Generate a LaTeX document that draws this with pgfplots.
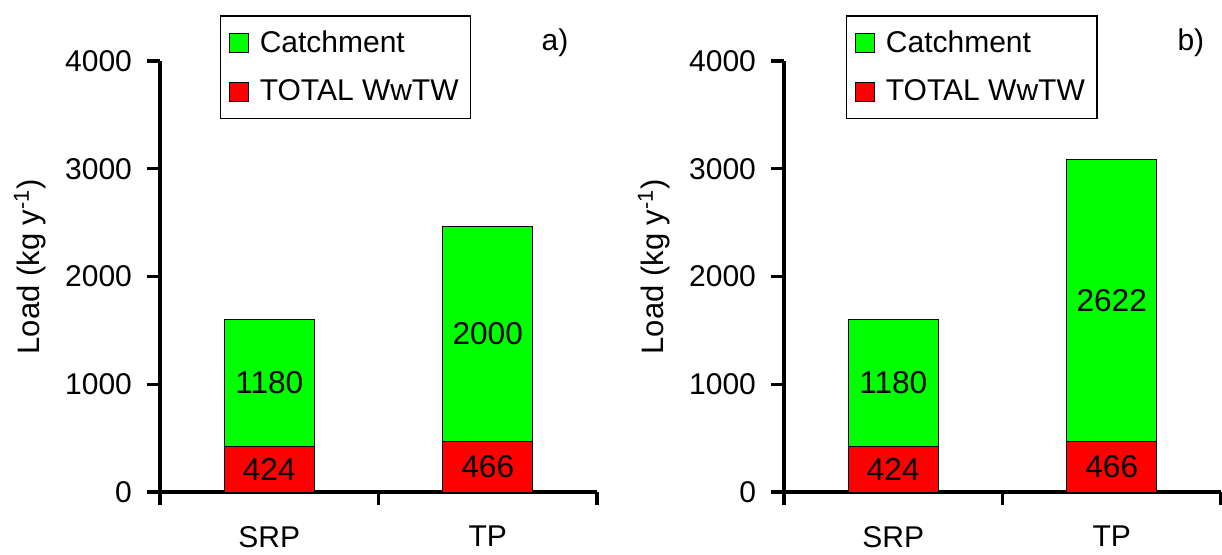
\documentclass[border=0pt]{standalone}
\usepackage{fontspec}
\setmainfont{Liberation Sans}
\usepackage{pgfplots}
\pgfplotsset{compat=1.18}
\newcommand{\fs}{\fontsize{15}{18}\selectfont}
\pgfplotsset{
  /pgf/number format/assume math mode=true,
  /pgf/number format/1000 sep={},
  panel/.style={
    scale only axis, width=218.5pt, height=215.5pt,
    xmin=0, xmax=2, ymin=0, ymax=4000,
    axis lines*=left,
    axis line style={line width=1.6pt, black},
    tick style={line width=1.6pt, black},
    tick align=outside,
    major tick length=6.5pt,
    xtick={0,1,2}, xticklabels={},
    extra x ticks={0.5,1.5}, extra x tick labels={SRP,TP},
    extra x tick style={major tick length=0pt, xticklabel style={yshift=-13.5pt}},
    ytick={0,1000,2000,3000,4000},
    tick label style={font=\fs},
    yticklabel style={xshift=-4pt},
    ylabel={Load (kg y\textsuperscript{-1})},
    ylabel style={font=\fontsize{15.5}{18}\selectfont, at={(axis description cs:-0.298,0.523)}, anchor=center},
    ybar stacked, bar width=45pt,
    clip=false,
    nodes near coords,
    every node near coord/.append style={font=\fontsize{15.8}{18}\selectfont, black, anchor=center},
    reverse legend,
    legend cell align=left,
    legend style={anchor=north west, draw=black, line width=0.7pt, font=\fs, row sep=8pt, column sep=3.5pt, inner xsep=4pt, inner ysep=5.5pt},
    legend image code/.code={\draw[#1,draw=black,line width=0.6pt] (0pt,-4.75pt) rectangle (9.5pt,4.75pt);},
  }
}
\begin{document}
\begin{tikzpicture}
\useasboundingbox (0,0) rectangle (611pt,277pt);
\begin{axis}[panel, at={(80pt,31pt)}, anchor=south west,
  legend style={at={(0.137,1.106)}}]
\addplot[fill=red, draw=black, line width=0.5pt] coordinates {(0.5,424) (1.5,466)};
\addplot[fill=green, draw=black, line width=0.5pt] coordinates {(0.5,1180) (1.5,2000)};
\legend{TOTAL WwTW, Catchment}
\node[font=\fs] at (axis description cs:0.904,1.042) {a)};
\end{axis}
\begin{axis}[panel, at={(392pt,31pt)}, anchor=south west,
  legend style={at={(0.142,1.106)}}]
\addplot[fill=red, draw=black, line width=0.5pt] coordinates {(0.5,424) (1.5,466)};
\addplot[fill=green, draw=black, line width=0.5pt] coordinates {(0.5,1180) (1.5,2622)};
\legend{TOTAL WwTW, Catchment}
\node[font=\fs] at (axis description cs:0.931,1.042) {b)};
\end{axis}
\end{tikzpicture}
\end{document}
